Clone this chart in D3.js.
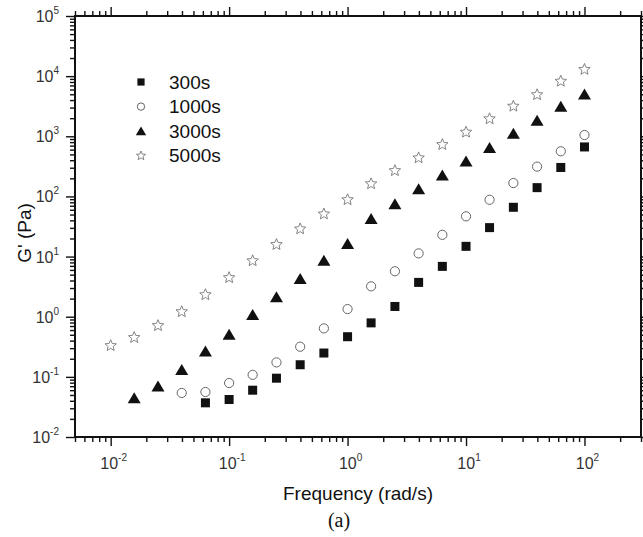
<!DOCTYPE html>
<html lang="en">
<head>
<meta charset="UTF-8">
<title>G' vs frequency</title>
<script src="https://cdn.jsdelivr.net/npm/d3@7"></script>
<style>
  html,body{margin:0;padding:0;background:#fff;}
  svg{display:block;}
  text{font-family:"Liberation Sans",Arial,sans-serif;fill:#111;}
</style>
</head>
<body>
<svg id="svg" width="643" height="537"></svg>
<script>
// angular frequency (rad/s), 5 points per decade
var freq = [0.01, 0.0158, 0.0251, 0.0398, 0.0631, 0.1, 0.158, 0.251, 0.398, 0.631,
            1, 1.58, 2.51, 3.98, 6.31, 10, 15.8, 25.1, 39.8, 63.1, 100];
// G' (Pa) per curing time, aligned on freq (null = no point)
var g300  = [null, null, null, null, 0.037, 0.042, 0.060, 0.095, 0.159, 0.249,
             0.465, 0.79, 1.48, 3.72, 6.87, 14.8, 30.3, 66, 140, 303, 665];
var g1000 = [null, null, null, 0.054, 0.056, 0.079, 0.108, 0.174, 0.317, 0.64,
             1.34, 3.2, 5.7, 11.3, 23, 46.7, 88, 167, 313, 563, 1050];
var g3000 = [null, 0.044, 0.069, 0.13, 0.265, 0.50, 1.07, 2.1, 4.24, 8.5,
             16.2, 42, 74, 132, 222, 380, 641, 1100, 1820, 3100, 4940];
var g5000 = [0.33, 0.45, 0.71, 1.21, 2.32, 4.46, 8.5, 15.8, 28.8, 51,
             88, 162, 268, 437, 727, 1170, 1950, 3160, 4900, 8220, 12900];
var seriesNames = ["300s", "1000s", "3000s", "5000s"];
var xMajor = [-2, -1, 0, 1, 2];
var yMajor = [-2, -1, 0, 1, 2, 3, 4, 5];

var svg = d3.select("#svg");
var pLeft = 75, pRight = 641, pTop = 16, pBottom = 437;

var x = d3.scaleLog().domain([0.005, 300]).range([pLeft, pRight]);
var y = d3.scaleLog().domain([0.01, 1e5]).range([pBottom, pTop]);

function minors(dom){
  var out = [];
  var a = Math.floor(Math.log10(dom[0])), b = Math.ceil(Math.log10(dom[1]));
  for (var e = a; e < b; e++)
    for (var m = 2; m <= 9; m++){
      var v = m * Math.pow(10, e);
      if (v >= dom[0] && v <= dom[1]) out.push(v);
    }
  return out;
}
var xMinor = minors(x.domain()), yMinor = minors(y.domain());
var xMaj = xMajor.map(function(e){ return Math.pow(10, e); });
var yMaj = yMajor.map(function(e){ return Math.pow(10, e); });

function axis(gen, scale, vals, len, tr){
  var g = svg.append("g").attr("transform", tr)
    .call(gen(scale).tickValues(vals).tickSize(len).tickFormat(""));
  g.select(".domain").remove();
  g.selectAll("line").attr("stroke", "#111").attr("stroke-width", 1.4);
}
// bottom/left ticks point out, top/right point in
axis(d3.axisBottom, x, xMinor, 5, "translate(0," + pBottom + ")");
axis(d3.axisBottom, x, xMaj, 9, "translate(0," + pBottom + ")");
axis(d3.axisBottom, x, xMinor, -5, "translate(0," + pTop + ")");
axis(d3.axisBottom, x, xMaj, -9, "translate(0," + pTop + ")");
axis(d3.axisLeft, y, yMinor, 5, "translate(" + pLeft + ",0)");
axis(d3.axisLeft, y, yMaj, 9, "translate(" + pLeft + ",0)");
axis(d3.axisLeft, y, yMinor, -5, "translate(" + pRight + ",0)");
axis(d3.axisLeft, y, yMaj, -9, "translate(" + pRight + ",0)");

svg.append("rect")
  .attr("x", pLeft).attr("y", pTop)
  .attr("width", pRight - pLeft).attr("height", pBottom - pTop)
  .attr("fill", "none").attr("stroke", "#111").attr("stroke-width", 2);

function powLabel(sel, e){
  sel.append("tspan").text("10");
  sel.append("tspan").attr("dy", -8).style("font-size", "10px").text(e);
}
xMajor.forEach(function(e){
  svg.append("text").attr("x", x(Math.pow(10, e)) + 3).attr("y", 469)
    .attr("text-anchor", "middle").style("font-size", "16px").style("fill", "#333")
    .call(powLabel, e);
});
yMajor.forEach(function(e){
  svg.append("text").attr("x", 59).attr("y", y(Math.pow(10, e)) + 6)
    .attr("text-anchor", "end").style("font-size", "16px").style("fill", "#333")
    .call(powLabel, e);
});

svg.append("text").attr("x", 358).attr("y", 500).attr("text-anchor", "middle")
  .style("font-size", "19px").text("Frequency (rad/s)");
svg.append("text").attr("transform", "translate(31,233) rotate(-90)")
  .attr("text-anchor", "middle").style("font-size", "19px").text("G' (Pa)");
svg.append("text").attr("x", 339).attr("y", 527).attr("text-anchor", "middle")
  .style("font-family", "'Liberation Serif','Times New Roman',serif")
  .style("font-size", "20px").text("(a)");

// markers
function starPath(r){
  var p = [];
  for (var i = 0; i < 10; i++){
    var rr = i % 2 ? r * 0.45 : r, a = -Math.PI / 2 + i * Math.PI / 5;
    p.push([rr * Math.cos(a), rr * Math.sin(a)]);
  }
  return "M" + p.join("L") + "Z";
}
var marker = [
  function(g, k){ g.append("rect").attr("x", -4.5*k).attr("y", -4.5*k)
      .attr("width", 9*k).attr("height", 9*k).attr("fill", "#111"); },
  function(g, k){ g.append("circle").attr("r", 4.6*k).attr("fill", "#fff")
      .attr("stroke", "#666").attr("stroke-width", 1); },
  function(g, k){ g.append("path")
      .attr("d", "M0," + (-6*k) + "L" + (6.5*k) + "," + (5*k) + "L" + (-6.5*k) + "," + (5*k) + "Z")
      .attr("fill", "#111"); },
  function(g, k){ g.append("path").attr("d", starPath(6*k)).attr("fill", "#fff")
      .attr("stroke", "#777").attr("stroke-width", 0.9); }
];

[g300, g1000, g3000, g5000].forEach(function(vals, s){
  var pts = freq.map(function(f, i){ return {f: f, v: vals[i]}; })
    .filter(function(d){ return d.v != null; });
  svg.append("g").selectAll("g").data(pts).enter().append("g")
    .attr("transform", function(d){ return "translate(" + x(d.f) + "," + y(d.v) + ")"; })
    .each(function(){ marker[s](d3.select(this), 1); });
});

// legend
var leg = svg.append("g").attr("transform", "translate(141,82)");
seriesNames.forEach(function(n, i){
  var row = leg.append("g").attr("transform", "translate(0," + (i * 24.6) + ")");
  marker[i](row, 0.8);
  row.append("text").attr("x", 28).attr("y", 6.5).style("font-size", "19px").text(n);
});
</script>
</body>
</html>
